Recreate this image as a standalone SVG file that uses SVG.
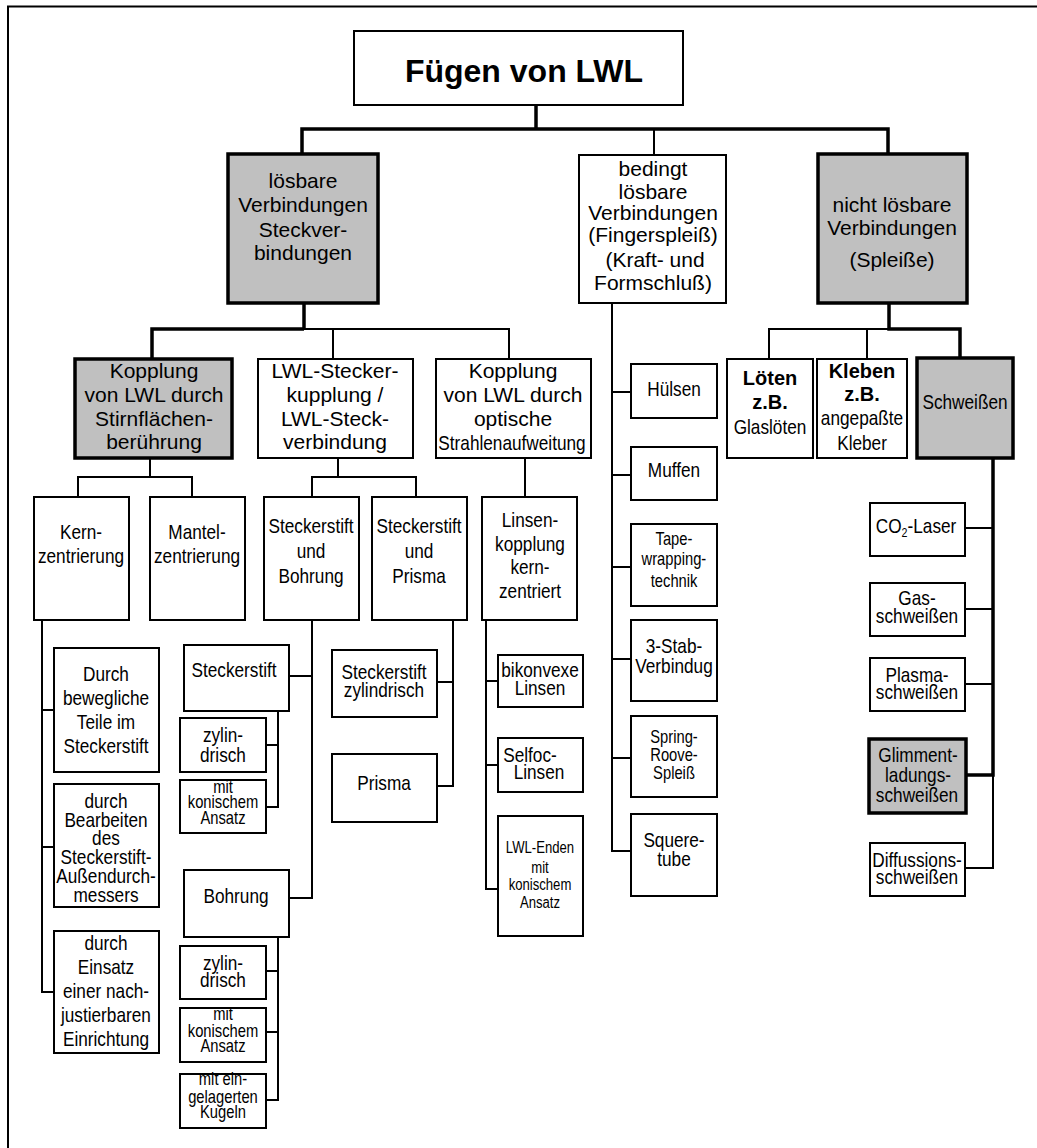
<svg xmlns="http://www.w3.org/2000/svg" width="1037" height="1148" viewBox="0 0 1037 1148">
  <style>
    .box { fill: #ffffff; stroke: #000000; stroke-width: 2; }
    .gbox { fill: #c0c0c0; stroke: #000000; stroke-width: 3.5; }
    .ln { fill: none; stroke: #000000; stroke-width: 2; }
    .tk { fill: none; stroke: #000000; stroke-width: 3.5; }
    text { fill: #000000; text-anchor: middle; font-family: "Liberation Sans", Arial, Helvetica, sans-serif; }
    .t { font-size: 21px; }
    .tb { font-size: 20px; font-weight: bold; }
    .title { font-size: 32px; font-weight: bold; }
    /* condensed labels: regular face squeezed horizontally about its own centre */
    .n, .ns, .nxs { transform: scaleX(0.82); transform-box: fill-box; transform-origin: center; }
    .n { font-size: 21px; }
    .ns { font-size: 18px; }
    .nxs { font-size: 16px; }
  </style>

  <!-- page frame (top and left edges) -->
  <path class="ln" d="M8,1148 V6.5 H1037"/>

  <!-- connectors -->
  <g id="connectors">
    <!-- root to the three main groups -->
    <path class="tk" d="M536,105 V129"/>
    <path class="tk" d="M302,155 V129 H888 V155"/>
    <path class="ln" d="M654,129 V155"/>

    <!-- loesbare Verbindungen -->
    <path class="tk" d="M304,303 V329"/>
    <path class="tk" d="M152,358 V329 H304"/>
    <path class="ln" d="M304,329 H509 V358"/>
    <path class="ln" d="M333,329 V358"/>

    <!-- Stirnflaechenberuehrung -->
    <path class="ln" d="M150,458 V477"/>
    <path class="ln" d="M78,497 V477 H192 V497"/>
    <!-- Steckerkupplung -->
    <path class="ln" d="M338,458 V477"/>
    <path class="ln" d="M312,497 V477 H416 V497"/>
    <!-- Strahlenaufweitung -->
    <path class="ln" d="M525,458 V497"/>

    <!-- Kernzentrierung -->
    <path class="ln" d="M42,620 V992 H54"/>
    <path class="ln" d="M42,710 H54"/>
    <path class="ln" d="M42,847 H54"/>

    <!-- Steckerstift und Bohrung -->
    <path class="ln" d="M312,620 V898 H289"/>
    <path class="ln" d="M312,676 H289"/>
    <path class="ln" d="M278,711 V807 H266"/>
    <path class="ln" d="M278,745 H266"/>
    <path class="ln" d="M278,937 V1100 H266"/>
    <path class="ln" d="M278,971 H266"/>
    <path class="ln" d="M278,1032 H266"/>

    <!-- Steckerstift und Prisma -->
    <path class="ln" d="M453,620 V786 H437"/>
    <path class="ln" d="M453,682 H437"/>

    <!-- Linsenkopplung -->
    <path class="ln" d="M486,620 V889 H498"/>
    <path class="ln" d="M486,681 H498"/>
    <path class="ln" d="M486,765 H498"/>

    <!-- bedingt loesbare Verbindungen -->
    <path class="ln" d="M612,303 V851 H631"/>
    <path class="ln" d="M612,392 H631"/>
    <path class="ln" d="M612,475 H631"/>
    <path class="ln" d="M612,567 H631"/>
    <path class="ln" d="M612,659 H631"/>
    <path class="ln" d="M612,758 H631"/>

    <!-- nicht loesbare Verbindungen -->
    <path class="tk" d="M889,303 V329 H960 V358"/>
    <path class="ln" d="M769,358 V329 H889"/>
    <path class="ln" d="M867,329 V358"/>

    <!-- Schweissen -->
    <path class="tk" d="M993,458 V775 H966"/>
    <path class="ln" d="M993,775 V868 H965"/>
    <path class="ln" d="M993,528 H965"/>
    <path class="ln" d="M993,609 H965"/>
    <path class="ln" d="M993,684 H965"/>
  </g>

  <!-- root -->
  <g id="root">
    <rect class="box" x="354" y="31" width="329" height="74"/>
    <text class="title" x="524" y="82">Fügen von LWL</text>
  </g>

  <!-- main groups -->
  <g id="loesbar">
    <rect class="gbox" x="228" y="154" width="150" height="149"/>
    <text class="t" x="303" y="188">lösbare</text>
    <text class="t" x="303" y="212">Verbindungen</text>
    <text class="t" x="303" y="237">Steckver-</text>
    <text class="t" x="303" y="260">bindungen</text>
  </g>
  <g id="bedingt">
    <rect class="box" x="579" y="155" width="147" height="148"/>
    <text class="t" x="653" y="176">bedingt</text>
    <text class="t" x="653" y="199">lösbare</text>
    <text class="t" x="653" y="220">Verbindungen</text>
    <text class="t" x="653" y="242">(Fingerspleiß)</text>
    <text class="t" x="655" y="267">(Kraft- und</text>
    <text class="t" x="653" y="290">Formschluß)</text>
  </g>
  <g id="nichtloesbar">
    <rect class="gbox" x="818" y="154" width="149" height="149"/>
    <text class="t" x="892" y="212">nicht lösbare</text>
    <text class="t" x="892" y="235">Verbindungen</text>
    <text class="t" x="892" y="267">(Spleiße)</text>
  </g>

  <!-- second level -->
  <g id="stirnflaeche">
    <rect class="gbox" x="75" y="359" width="157" height="99"/>
    <text class="t" x="154" y="378">Kopplung</text>
    <text class="t" x="154" y="402">von LWL durch</text>
    <text class="t" x="154" y="426">Stirnflächen-</text>
    <text class="t" x="154" y="449">berührung</text>
  </g>
  <g id="steckerkupplung">
    <rect class="box" x="258" y="359" width="155" height="99"/>
    <text class="t" x="335" y="378">LWL-Stecker-</text>
    <text class="t" x="335" y="402">kupplung /</text>
    <text class="t" x="335" y="426">LWL-Steck-</text>
    <text class="t" x="335" y="449">verbindung</text>
  </g>
  <g id="strahlenaufweitung">
    <rect class="box" x="436" y="359" width="155" height="99"/>
    <text class="t" x="513" y="378">Kopplung</text>
    <text class="t" x="513" y="402">von LWL durch</text>
    <text class="t" x="513" y="426">optische</text>
    <text class="n" x="512" y="450">Strahlenaufweitung</text>
  </g>
  <g id="loeten">
    <rect class="box" x="727" y="359" width="86" height="99"/>
    <text class="tb" x="770" y="385">Löten</text>
    <text class="tb" x="770" y="409">z.B.</text>
    <text class="n" x="770" y="434">Glaslöten</text>
  </g>
  <g id="kleben">
    <rect class="box" x="817" y="359" width="90" height="99"/>
    <text class="tb" x="862" y="378">Kleben</text>
    <text class="tb" x="862" y="401">z.B.</text>
    <text class="n" x="862" y="425">angepaßte</text>
    <text class="n" x="862" y="450">Kleber</text>
  </g>
  <g id="schweissen">
    <rect class="gbox" x="917" y="358" width="96" height="100"/>
    <text class="n" x="965" y="409">Schweißen</text>
  </g>

  <!-- third level -->
  <g id="kernzentrierung">
    <rect class="box" x="34" y="497" width="95" height="123"/>
    <text class="n" x="81" y="539">Kern-</text>
    <text class="n" x="81" y="563">zentrierung</text>
  </g>
  <g id="mantelzentrierung">
    <rect class="box" x="150" y="497" width="95" height="123"/>
    <text class="n" x="197" y="539">Mantel-</text>
    <text class="n" x="197" y="563">zentrierung</text>
  </g>
  <g id="stift-bohrung">
    <rect class="box" x="264" y="497" width="95" height="123"/>
    <text class="n" x="311" y="533">Steckerstift</text>
    <text class="n" x="311" y="558">und</text>
    <text class="n" x="311" y="583">Bohrung</text>
  </g>
  <g id="stift-prisma">
    <rect class="box" x="372" y="497" width="95" height="123"/>
    <text class="n" x="419" y="533">Steckerstift</text>
    <text class="n" x="419" y="558">und</text>
    <text class="n" x="419" y="583">Prisma</text>
  </g>
  <g id="linsenkopplung">
    <rect class="box" x="482" y="497" width="95" height="123"/>
    <text class="n" x="530" y="527">Linsen-</text>
    <text class="n" x="530" y="551">kopplung</text>
    <text class="n" x="530" y="574">kern-</text>
    <text class="n" x="530" y="598">zentriert</text>
  </g>

  <!-- Kernzentrierung children -->
  <g id="bewegliche-teile">
    <rect class="box" x="54" y="648" width="105" height="124"/>
    <text class="n" x="106" y="681">Durch</text>
    <text class="n" x="106" y="705">bewegliche</text>
    <text class="n" x="106" y="729">Teile im</text>
    <text class="n" x="106" y="753">Steckerstift</text>
  </g>
  <g id="bearbeiten">
    <rect class="box" x="54" y="784" width="105" height="123"/>
    <text class="n" x="106" y="808">durch</text>
    <text class="n" x="106" y="827">Bearbeiten</text>
    <text class="n" x="106" y="845">des</text>
    <text class="n" x="106" y="864">Steckerstift-</text>
    <text class="n" x="106" y="883">Außendurch-</text>
    <text class="n" x="106" y="902">messers</text>
  </g>
  <g id="einsatz">
    <rect class="box" x="54" y="931" width="105" height="122"/>
    <text class="n" x="106" y="950">durch</text>
    <text class="n" x="106" y="974">Einsatz</text>
    <text class="n" x="106" y="998">einer nach-</text>
    <text class="n" x="106" y="1022">justierbaren</text>
    <text class="n" x="106" y="1046">Einrichtung</text>
  </g>

  <!-- Steckerstift und Bohrung children -->
  <g id="steckerstift">
    <rect class="box" x="184" y="645" width="105" height="66"/>
    <text class="n" x="234" y="677">Steckerstift</text>
  </g>
  <g id="stift-zylindrisch">
    <rect class="box" x="180" y="718" width="86" height="54"/>
    <text class="n" x="223" y="742">zylin-</text>
    <text class="n" x="223" y="762">drisch</text>
  </g>
  <g id="stift-konisch">
    <rect class="box" x="180" y="780" width="86" height="53"/>
    <text class="ns" x="223" y="793">mit</text>
    <text class="ns" x="223" y="808">konischem</text>
    <text class="ns" x="223" y="824">Ansatz</text>
  </g>
  <g id="bohrung">
    <rect class="box" x="184" y="870" width="105" height="67"/>
    <text class="n" x="236" y="903">Bohrung</text>
  </g>
  <g id="bohrung-zylindrisch">
    <rect class="box" x="180" y="946" width="86" height="53"/>
    <text class="n" x="223" y="970">zylin-</text>
    <text class="n" x="223" y="987">drisch</text>
  </g>
  <g id="bohrung-konisch">
    <rect class="box" x="180" y="1008" width="86" height="54"/>
    <text class="ns" x="223" y="1020">mit</text>
    <text class="ns" x="223" y="1037">konischem</text>
    <text class="ns" x="223" y="1052">Ansatz</text>
  </g>
  <g id="bohrung-kugeln">
    <rect class="box" x="180" y="1074" width="86" height="54"/>
    <text class="ns" x="223" y="1085">mit ein-</text>
    <text class="ns" x="223" y="1103">gelagerten</text>
    <text class="ns" x="223" y="1118">Kugeln</text>
  </g>

  <!-- Steckerstift und Prisma children -->
  <g id="prisma-stift">
    <rect class="box" x="332" y="650" width="105" height="67"/>
    <text class="n" x="384" y="679">Steckerstift</text>
    <text class="n" x="384" y="697">zylindrisch</text>
  </g>
  <g id="prisma">
    <rect class="box" x="332" y="754" width="105" height="68"/>
    <text class="n" x="384" y="790">Prisma</text>
  </g>

  <!-- Linsenkopplung children -->
  <g id="bikonvex">
    <rect class="box" x="498" y="655" width="85" height="52"/>
    <text class="n" x="540" y="677">bikonvexe</text>
    <text class="n" x="540" y="695">Linsen</text>
  </g>
  <g id="selfoc">
    <rect class="box" x="498" y="738" width="85" height="54"/>
    <text class="n" x="530" y="762">Selfoc-</text>
    <text class="n" x="539" y="779">Linsen</text>
  </g>
  <g id="lwl-enden">
    <rect class="box" x="498" y="816" width="85" height="120"/>
    <text class="nxs" x="540" y="853">LWL-Enden</text>
    <text class="nxs" x="540" y="873">mit</text>
    <text class="nxs" x="540" y="890">konischem</text>
    <text class="nxs" x="540" y="908">Ansatz</text>
  </g>

  <!-- bedingt loesbare children -->
  <g id="huelsen">
    <rect class="box" x="631" y="364" width="86" height="54"/>
    <text class="n" x="674" y="396">Hülsen</text>
  </g>
  <g id="muffen">
    <rect class="box" x="631" y="447" width="86" height="53"/>
    <text class="n" x="674" y="477">Muffen</text>
  </g>
  <g id="tapewrapping">
    <rect class="box" x="631" y="524" width="86" height="82"/>
    <text class="ns" x="674" y="545">Tape-</text>
    <text class="ns" x="674" y="565">wrapping-</text>
    <text class="ns" x="674" y="587">technik</text>
  </g>
  <g id="dreistab">
    <rect class="box" x="631" y="620" width="86" height="81"/>
    <text class="n" x="674" y="653">3-Stab-</text>
    <text class="n" x="674" y="673">Verbindug</text>
  </g>
  <g id="springroove">
    <rect class="box" x="631" y="716" width="86" height="81"/>
    <text class="ns" x="674" y="743">Spring-</text>
    <text class="ns" x="674" y="761">Roove-</text>
    <text class="ns" x="674" y="779">Spleiß</text>
  </g>
  <g id="squeretube">
    <rect class="box" x="631" y="814" width="86" height="82"/>
    <text class="n" x="674" y="847">Squere-</text>
    <text class="n" x="674" y="866">tube</text>
  </g>

  <!-- Schweissen children -->
  <g id="co2laser">
    <rect class="box" x="870" y="503" width="95" height="53"/>
    <text class="n" x="916" y="533">CO<tspan font-size="13" dy="4">2</tspan><tspan dy="-4">-Laser</tspan></text>
  </g>
  <g id="gasschweissen">
    <rect class="box" x="870" y="583" width="95" height="53"/>
    <text class="n" x="917" y="605">Gas-</text>
    <text class="n" x="917" y="623">schweißen</text>
  </g>
  <g id="plasmaschweissen">
    <rect class="box" x="870" y="658" width="95" height="53"/>
    <text class="n" x="917" y="682">Plasma-</text>
    <text class="n" x="917" y="699">schweißen</text>
  </g>
  <g id="glimmentladung">
    <rect class="gbox" x="869" y="739" width="97" height="74"/>
    <text class="n" x="918" y="762">Glimment-</text>
    <text class="n" x="918" y="782">ladungs-</text>
    <text class="n" x="917" y="802">schweißen</text>
  </g>
  <g id="diffusion">
    <rect class="box" x="870" y="843" width="95" height="53"/>
    <text class="n" x="917" y="867">Diffussions-</text>
    <text class="n" x="917" y="884">schweißen</text>
  </g>
</svg>
